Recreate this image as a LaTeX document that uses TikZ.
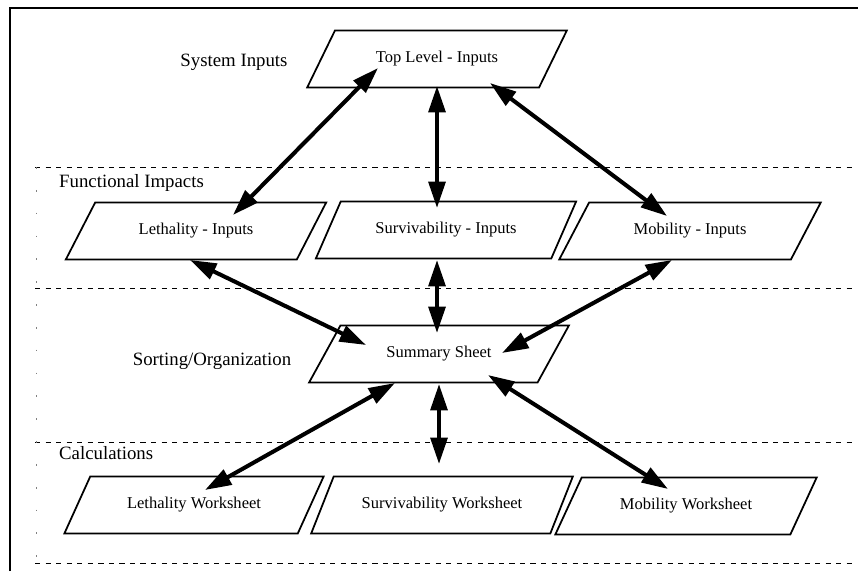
\documentclass[tikz,border=0pt]{standalone}
\usepackage{fontspec}
\setmainfont{Liberation Serif}
\usetikzlibrary{shapes.geometric,arrows.meta,calc}

\begin{document}
\begin{tikzpicture}[x=0.02cm,y=-0.02cm,
    sheet/.style={draw,line width=1pt,trapezium,trapezium left angle=42,
      trapezium right angle=138,trapezium stretches=true,
      minimum width=5.24cm,minimum height=1.14cm,inner sep=0pt,
      font=\fontsize{9.4}{11}\selectfont},
    band/.style={font=\fontsize{10.7}{13}\selectfont},
    link/.style={line width=2.3pt,
      {Triangle[length=15pt,width=9.5pt]}-{Triangle[length=15pt,width=9.5pt]}}]
    \useasboundingbox (0,0) rectangle (858,571);
    % frame and bands
    \draw[line width=1.2pt] (10,571) -- (10,8) -- (858,8);
    \foreach \y in {167,288,442,563}
      \draw[line width=0.5pt,dash pattern=on 3pt off 3pt] (35,\y) -- (852,\y);
    \draw[gray,line width=0.5pt,dash pattern=on 1pt off 12pt] (36,167) -- (36,563);
    % band labels
    \node[band] (sysin) at (234,62) {System Inputs};
    \node[band,anchor=west] (funcimp) at (53,183) {Functional Impacts};
    \node[band] (sorting) at (212,361) {Sorting/Organization};
    \node[band,anchor=west] (calcs) at (53,453) {Calculations};
    % sheets
    \node[sheet] (top) at (437,59) {Top Level - Inputs};
    \node[sheet] (lethin) at (196,231) {Lethality - Inputs};
    \node[sheet] (survin) at (446,230) {Survivability - Inputs};
    \node[sheet] (mobin) at (690,231) {Mobility - Inputs};
    \node[sheet] (summary) at (439,354) {Summary Sheet};
    \node[sheet] (lethws) at (194,505) {Lethality Worksheet};
    \node[sheet] (survws) at (442,505) {Survivability Worksheet};
    \node[sheet] (mobws) at (686,506) {Mobility Worksheet};
    % links
    \foreach \from/\fx/\fy/\to/\tx/\ty in {
        top/-59/9/lethin/37/-16, top/0/27/survin/-9/-22, top/53/24/mobin/-23/-15,
        lethin/-6/29/summary/-73/-9, survin/-9/30/summary/-2/-21, mobin/-18/29/summary/63/-1,
        summary/-44/29/lethws/11/-15, summary/0/30/survws/-3/-41, summary/49/21/mobws/-18/-17}
      \draw[link] ($(\from)+(\fx,\fy)$) -- ($(\to)+(\tx,\ty)$);
\end{tikzpicture}
\end{document}
